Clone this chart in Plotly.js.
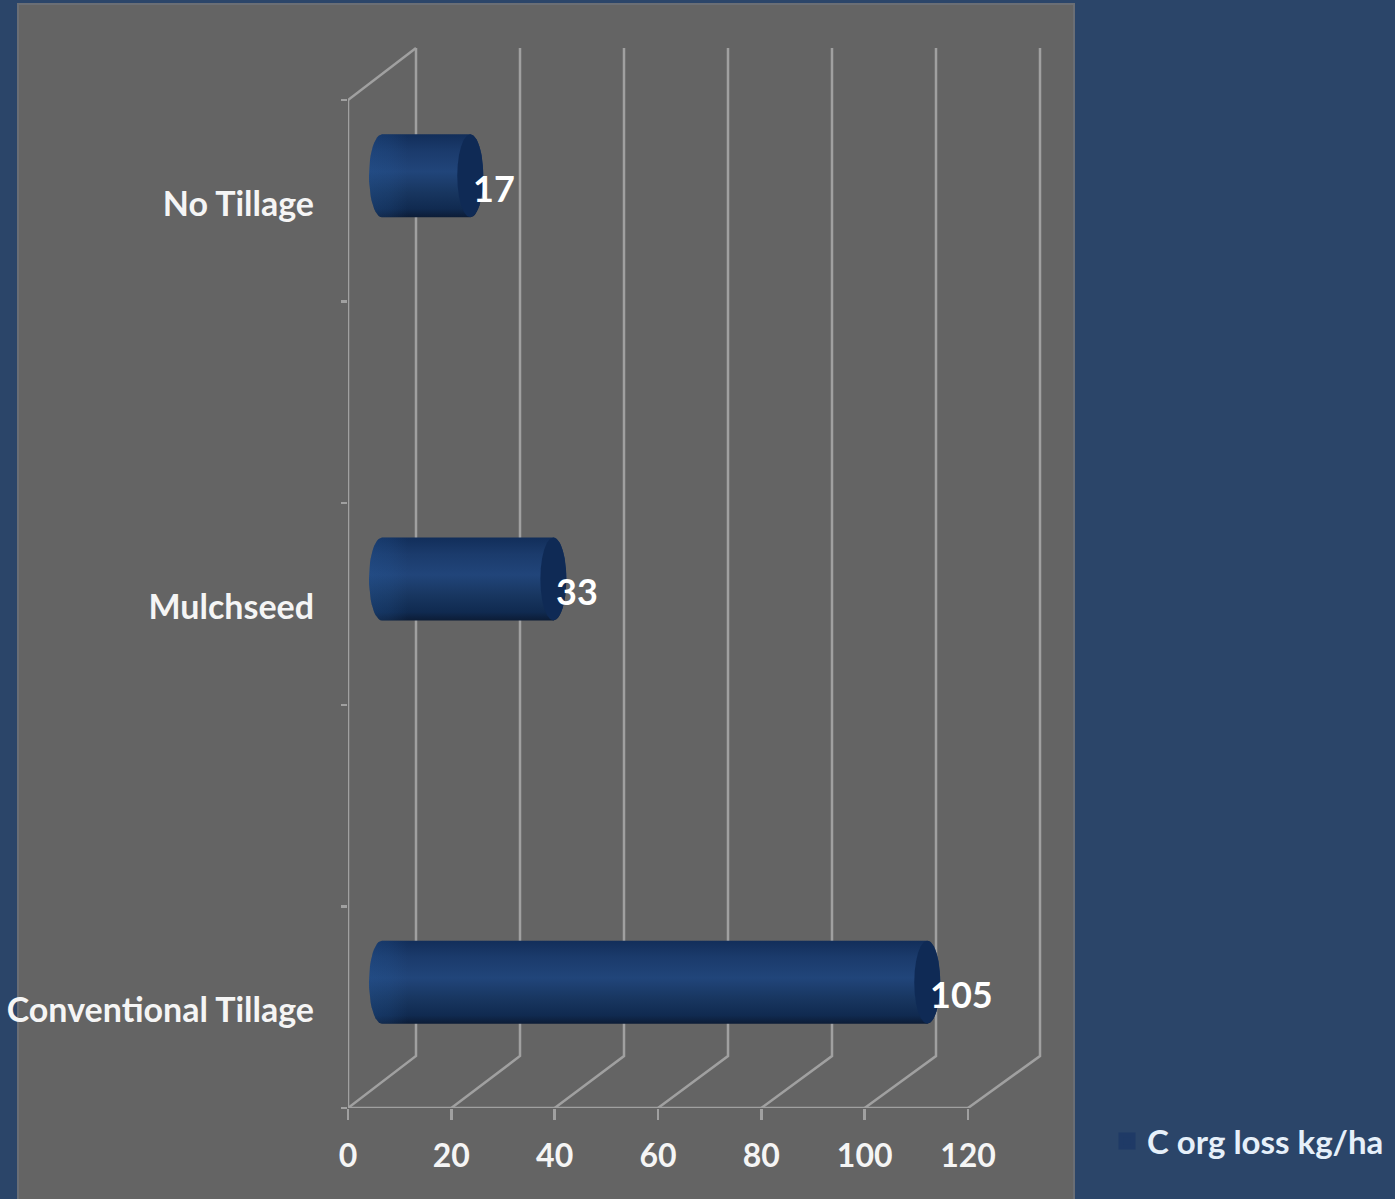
<!DOCTYPE html>
<html>
<head>
<meta charset="utf-8">
<script src="https://cdn.plot.ly/plotly-3.0.1.min.js"></script>
<style>html,body{margin:0;padding:0;background:#2b4569;}</style>
</head>
<body>
<div id="chart" style="width:1395px;height:1199px;"></div>
<script>
// Organic carbon loss by tillage system
const categories = ["Conventional Tillage", "Mulchseed", "No Tillage"];
const lossValues = [105, 33, 17];
const seriesName = "C org loss kg/ha";
const xTicks = [0, 20, 40, 60, 80, 100, 120];

// Page geometry: the plot area holds the whole box, front plane plus depth
const W = 1395, H = 1199;
const frontLeft = 348, frontRight = 968, frontTop = 100, frontBottom = 1108;
const XMAX = 120, BANDS = 5;
const pxPerX = (frontRight - frontLeft) / XMAX;
const pxPerY = (frontBottom - frontTop) / BANDS;
const M = {l: frontLeft, r: W - 1044, t: 44, b: H - frontBottom, pad: 0, autoexpand: false};
const plotW = W - M.l - M.r, plotH = H - M.t - M.b;
const pageX = px => (px - M.l) / plotW;
const pageY = py => 1 - (py - M.t) / plotH;

// Depth of the pseudo-3D box: the back wall is offset and very slightly wider
const depthX = 68 / pxPerX, depthY = 52 / pxPerY, backScale = 624 / 620;

// The cylinders live on a mid-depth plane with its own horizontal scale
const midPxPerX = 5.193, midLeft = 382;
const barLift = 25 / pxPerY, barThick = 83 / pxPerY, capX = 13 / midPxPerX;
const slots = categories.map((c, i) => i * 2 + 0.5);
const bandEdges = Array.from({length: BANDS + 1}, (_, i) => i);

// Back wall, floor, side wall and front axis lines
const gx = [], gy = [];
xTicks.forEach(v => {
  const back = v * backScale + depthX;
  gx.push(v, back, back, null);
  gy.push(0, depthY, BANDS + depthY, null);
});
gx.push(0, depthX, null, 0, 0, XMAX, null);
gy.push(BANDS, BANDS + depthY, null, BANDS, 0, 0, null);

function arc(cx, cy, from, to) {
  const xs = [], ys = [];
  for (let i = 0; i <= 24; i++) {
    const a = (from + (to - from) * i / 24) * Math.PI / 180;
    xs.push(cx + capX * Math.cos(a));
    ys.push(cy + barThick / 2 * Math.sin(a));
  }
  return [xs, ys];
}

const traces = [];
traces.push({
  type: "scatter", mode: "lines", x: gx, y: gy, cliponaxis: false, showlegend: false,
  line: {color: "#a0a0a0", width: 2.5}, hoverinfo: "skip"
});
// Flat bars carry the values and the legend entry
traces.push({
  type: "bar", orientation: "h", name: seriesName, showlegend: true, xaxis: "x2", yaxis: "y",
  x: lossValues, y: slots.map(s => s + barLift), width: barThick - 8 / pxPerY,
  marker: {color: "#1f3a66", line: {width: 5, color: "#1f3a66"}}, hoverinfo: "x+y"
});

lossValues.forEach((v, i) => {
  const cy = slots[i] + barLift;
  const [lx, ly] = arc(0, cy, 90, 270);
  const [rx, ry] = arc(v, cy, -90, 90);
  // Cylinder body with top-to-bottom shading
  traces.push({
    type: "scatter", mode: "lines", showlegend: false, hoverinfo: "skip", xaxis: "x2", yaxis: "y",
    x: lx.concat(rx, lx[0]), y: ly.concat(ry, ly[0]),
    fill: "toself", line: {width: 0, color: "rgba(0,0,0,0)"},
    fillgradient: {type: "vertical", colorscale: [
      [0, "#0c1c36"], [0.1, "#102a50"], [0.3, "#183660"], [0.55, "#21457a"],
      [0.8, "#1b3b6c"], [1, "#122e5a"]
    ]}
  });
  // Soft lighter band on the rounded near end
  const gl = 26 / midPxPerX;
  traces.push({
    type: "scatter", mode: "lines", showlegend: false, hoverinfo: "skip", xaxis: "x2", yaxis: "y",
    x: lx.concat(gl, gl, lx[0]),
    y: ly.concat(cy - barThick / 2, cy + barThick / 2, ly[0]),
    fill: "toself", line: {width: 0, color: "rgba(0,0,0,0)"},
    fillgradient: {type: "horizontal", colorscale: [
      [0, "rgba(38,90,155,0.3)"], [0.5, "rgba(38,90,155,0.2)"], [1, "rgba(38,90,155,0)"]
    ]}
  });
  // Dark end cap
  const [ex, ey] = arc(v, cy, 0, 360);
  traces.push({
    type: "scatter", mode: "lines", showlegend: false, hoverinfo: "skip", xaxis: "x2", yaxis: "y",
    x: ex, y: ey, fill: "toself", line: {width: 0, color: "rgba(0,0,0,0)"},
    fillcolor: "#0f2a55"
  });
});

const FONT = "Lato, 'Open Sans', sans-serif";
const annotations = lossValues.map((v, i) => ({
  x: v, y: slots[i] + barLift, xref: "x2", yref: "y",
  text: "<b>" + v + "</b>", showarrow: false, xanchor: "left", yanchor: "middle",
  xshift: 1, yshift: -12, font: {family: FONT, size: 36, color: "#ffffff"}
}));

const layout = {
  width: W, height: H, autosize: false,
  margin: M,
  paper_bgcolor: "#2b4569", plot_bgcolor: "rgba(0,0,0,0)",
  showlegend: true,
  bargap: 0,
  legend: {
    x: pageX(1107), y: pageY(1141),
    xanchor: "left", yanchor: "middle", bgcolor: "rgba(0,0,0,0)", itemwidth: 30,
    font: {family: FONT, size: 33, color: "#e6f0fa", weight: 700}
  },
  xaxis: {
    type: "linear", range: [0, (W - M.r - frontLeft) / pxPerX], tickmode: "array", tickvals: xTicks,
    ticktext: xTicks.map(String),
    ticks: "outside", ticklen: 11, tickwidth: 2.5, tickcolor: "#a0a0a0",
    showline: false, showgrid: false, zeroline: false,
    tickfont: {family: FONT, size: 32, color: "#f5f5f5", weight: 700},
    ticklabelstandoff: 9
  },
  xaxis2: {
    type: "linear", overlaying: "x", visible: false,
    range: [(frontLeft - midLeft) / midPxPerX, (W - M.r - midLeft) / midPxPerX]
  },
  yaxis: {
    type: "linear", range: [0, (frontBottom - M.t) / pxPerY], tickmode: "array", tickvals: slots,
    ticktext: categories,
    ticks: "", showline: false, showgrid: false, zeroline: false,
    tickfont: {family: FONT, size: 34, color: "#f5f5f5", weight: 700},
    ticklabelstandoff: 33, ticklabelshift: 3,
    minor: {tickmode: "array", tickvals: bandEdges, ticks: "outside", ticklen: 6, tickwidth: 2.5, tickcolor: "#a0a0a0", showgrid: false}
  },
  shapes: [{
    type: "rect", layer: "below", xref: "paper", yref: "paper",
    x0: pageX(18), x1: pageX(1074), y0: pageY(1210), y1: pageY(4),
    fillcolor: "#646464", line: {color: "#6a6e75", width: 2}
  }],
  annotations
};

Plotly.newPlot("chart", traces, layout, {displayModeBar: false, staticPlot: true});
</script>
</body>
</html>
